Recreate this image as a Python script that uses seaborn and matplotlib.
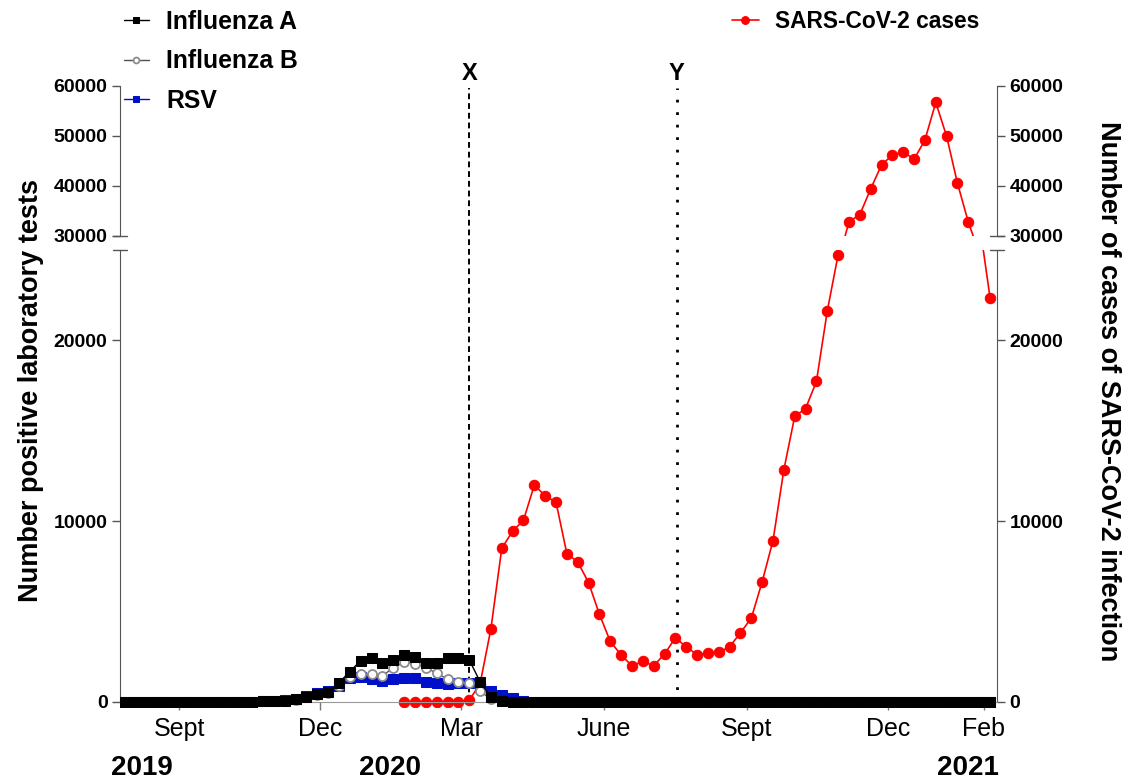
import numpy as np
import pandas as pd
import matplotlib
matplotlib.use("Agg")
import matplotlib.pyplot as plt
import matplotlib.dates as mdates
from matplotlib import transforms
import seaborn as sns

# weekly data, Jul 2019 - Feb 2021
dates = pd.date_range("2019-07-26", periods=81, freq="7D")

flu_a = [0] * 12 + [20, 40, 60, 80, 150, 300, 430, 570, 1070, 1680, 2290, 2420, 2180, 2330,
                    2600, 2510, 2180, 2180, 2420, 2420, 2330, 1125, 260, 55, 20] + [0] * 44
flu_b = [0] * 12 + [20, 40, 60, 80, 130, 250, 380, 520, 900, 1380, 1570, 1520, 1440, 1900,
                    2200, 2120, 1900, 1590, 1260, 1090, 1040, 600, 150, 40] + [0] * 45
rsv = [0] * 12 + [20, 40, 70, 100, 180, 330, 490, 630, 900, 1310, 1370, 1260, 1180, 1260,
                  1350, 1310, 1120, 1070, 1000, 1070, 1070, 850, 600, 400, 200, 40] + [0] * 43
sars = [np.nan] * 26 + [0, 0, 0, 0, 0, 0, 100, 1000, 4050, 8500, 9450, 10050, 12000, 11400,
                        11050, 8200, 7750, 6600, 4850, 3350, 2600, 2000, 2250, 2000, 2650,
                        3550, 3050, 2620, 2700, 2750, 3050, 3830, 4640, 6650, 8930, 12850,
                        15800, 16230, 17730, 21620, 24740, 32880, 34260, 39420, 44220, 46180,
                        46840, 45360, 49200, 56720, 49940, 40540, 32780, 26600, 22370]

month_ticks = pd.to_datetime(["2019-09-01", "2019-12-01", "2020-03-01", "2020-06-01",
                              "2020-09-01", "2020-12-01", "2021-02-01"])
month_labels = ["Sept", "Dec", "Mar", "June", "Sept", "Dec", "Feb"]
years = ["2019", "2020", "2021"]
year_x = [142, 390, 968]  # pixel centres of year labels
line_x = pd.Timestamp("2020-03-06")
line_y = pd.Timestamp("2020-07-18")

sns.set_style("ticks")
plt.rcParams["font.family"] = ["Liberation Sans", "DejaVu Sans"]
plt.rcParams["font.weight"] = "bold"
plt.rcParams["text.color"] = "black"
plt.rcParams["xtick.labelcolor"] = "black"
plt.rcParams["ytick.labelcolor"] = "black"

fig = plt.figure(figsize=(11.28, 7.84), dpi=100)
L, R = 120 / 1128, 997 / 1128
ax_top = fig.add_axes([L, 1 - 236 / 784, R - L, 150 / 784])
ax_bot = fig.add_axes([L, 1 - 707.4 / 784, R - L, 457.4 / 784])

styles = [
    ("SARS-CoV-2 cases", sars, dict(color="#ff0000", marker="o", markersize=7.5,
                                    markeredgecolor="#ff0000", linewidth=1.2, zorder=2)),
    ("RSV", rsv, dict(color="#0010c8", marker="s", markersize=6.5,
                      markeredgecolor="#0010c8", linewidth=1, zorder=3)),
    ("Influenza B", flu_b, dict(color="#505050", marker="o", markersize=6.5,
                                markerfacecolor="white", markeredgecolor="#8c8c8c",
                                markeredgewidth=1.3, linewidth=1, zorder=4)),
    ("Influenza A", flu_a, dict(color="black", marker="s", markersize=7,
                                markeredgecolor="black", linewidth=1, zorder=5)),
]

for ax in (ax_bot, ax_top):
    for name, vals, kw in styles:
        sns.lineplot(x=dates, y=vals, ax=ax, label=name, **kw)
    if ax.get_legend() is not None:
        ax.get_legend().remove()
h, l = ax_bot.get_legend_handles_labels()
handles = dict(zip(l, h))

spine_col = "#555555"
xlim = (dates[0] - pd.Timedelta(days=1.3), dates[-1] + pd.Timedelta(days=4.5))

# lower segment
ax_bot.set_xlim(xlim)
ax_bot.set_ylim(-300, 25000)
ax_bot.set_yticks([0, 10000, 20000])
ax_bot.spines["top"].set_visible(False)
ax_bot.spines["bottom"].set_position(("data", 0))
ax_bot.spines["bottom"].set_color("#999999")
for s in ("left", "right"):
    ax_bot.spines[s].set_bounds(0, 25000)
    ax_bot.spines[s].set_visible(True)
    ax_bot.spines[s].set_color(spine_col)
ax_bot.set_xticks(month_ticks)
ax_bot.set_xticklabels(month_labels, fontweight="normal", fontsize=18)
ax_bot.tick_params(axis="x", length=6, width=1, color="#777777", pad=5)

# upper segment
ax_top.set_xlim(xlim)
ax_top.set_ylim(30000, 60000)
ax_top.set_yticks([30000, 40000, 50000, 60000])
ax_top.set_xticks([])
for s in ("top", "bottom"):
    ax_top.spines[s].set_visible(False)
for s in ("left", "right"):
    ax_top.spines[s].set_visible(True)
    ax_top.spines[s].set_color(spine_col)

for ax in (ax_bot, ax_top):
    ax.set_xlabel("")
    ax.set_ylabel("")
    ax.patch.set_alpha(0)
    ax.tick_params(axis="y", left=True, right=True, labelleft=True, labelright=True,
                   length=6, width=1, color=spine_col, labelsize=14, pad=3)

# break marks
for x0 in (0, 1):
    ax_bot.plot([x0 - 0.0075, x0 + 0.0075], [1, 1], transform=ax_bot.transAxes,
                color=spine_col, lw=1, clip_on=False)
    ax_top.plot([x0 - 0.0075, x0 + 0.0075], [0, 0], transform=ax_top.transAxes,
                color=spine_col, lw=1, clip_on=False)

# X / Y event lines
tr = transforms.blended_transform_factory(ax_bot.transData, fig.transFigure)
y0, y1 = 1 - 702 / 784, 1 - 88 / 784
ax_bot.plot([mdates.date2num(line_x)] * 2, [y0, y1], transform=tr, color="black",
            lw=1.4, ls=(0, (3, 2)), clip_on=False, zorder=1)
ax_bot.plot([mdates.date2num(line_y)] * 2, [y0, y1], transform=tr, color="black",
            lw=2, ls=(0, (1, 3.5)), clip_on=False, zorder=1)
ax_bot.text(mdates.date2num(line_x), 1 - 73 / 784, "X", transform=tr, ha="center",
            va="center", fontsize=17)
ax_bot.text(mdates.date2num(line_y), 1 - 73 / 784, "Y", transform=tr, ha="center",
            va="center", fontsize=17)

# axis titles and years
fig.text(31 / 1128, 1 - 390 / 784, "Number positive laboratory tests", rotation=90,
         ha="center", va="center", fontsize=19.5)
fig.text(1108 / 1128, 1 - 391 / 784, "Number of cases of SARS-CoV-2 infection",
         rotation=270, ha="center", va="center", fontsize=19.5)
for yr, xp in zip(years, year_x):
    fig.text(xp / 1128, 1 - 768 / 784, yr, ha="center", va="center", fontsize=20)

fig.legend(handles=[handles["Influenza A"], handles["Influenza B"], handles["RSV"]],
           labels=["Influenza A", "Influenza B", "RSV"], loc="upper left",
           bbox_to_anchor=(119 / 1128, 1 - 5 / 784), frameon=False, fontsize=17.8,
           handlelength=1.0, handletextpad=0.7, labelspacing=0.62, markerscale=0.65,
           borderaxespad=0, borderpad=0.2)
fig.legend(handles=[handles["SARS-CoV-2 cases"]], labels=["SARS-CoV-2 cases"],
           loc="upper left", bbox_to_anchor=(727 / 1128, 1 - 5 / 784), frameon=False,
           fontsize=16.4, handlelength=1.2, handletextpad=0.7, markerscale=0.75,
           borderaxespad=0, borderpad=0.2)

fig.savefig("out.png", dpi=100)
